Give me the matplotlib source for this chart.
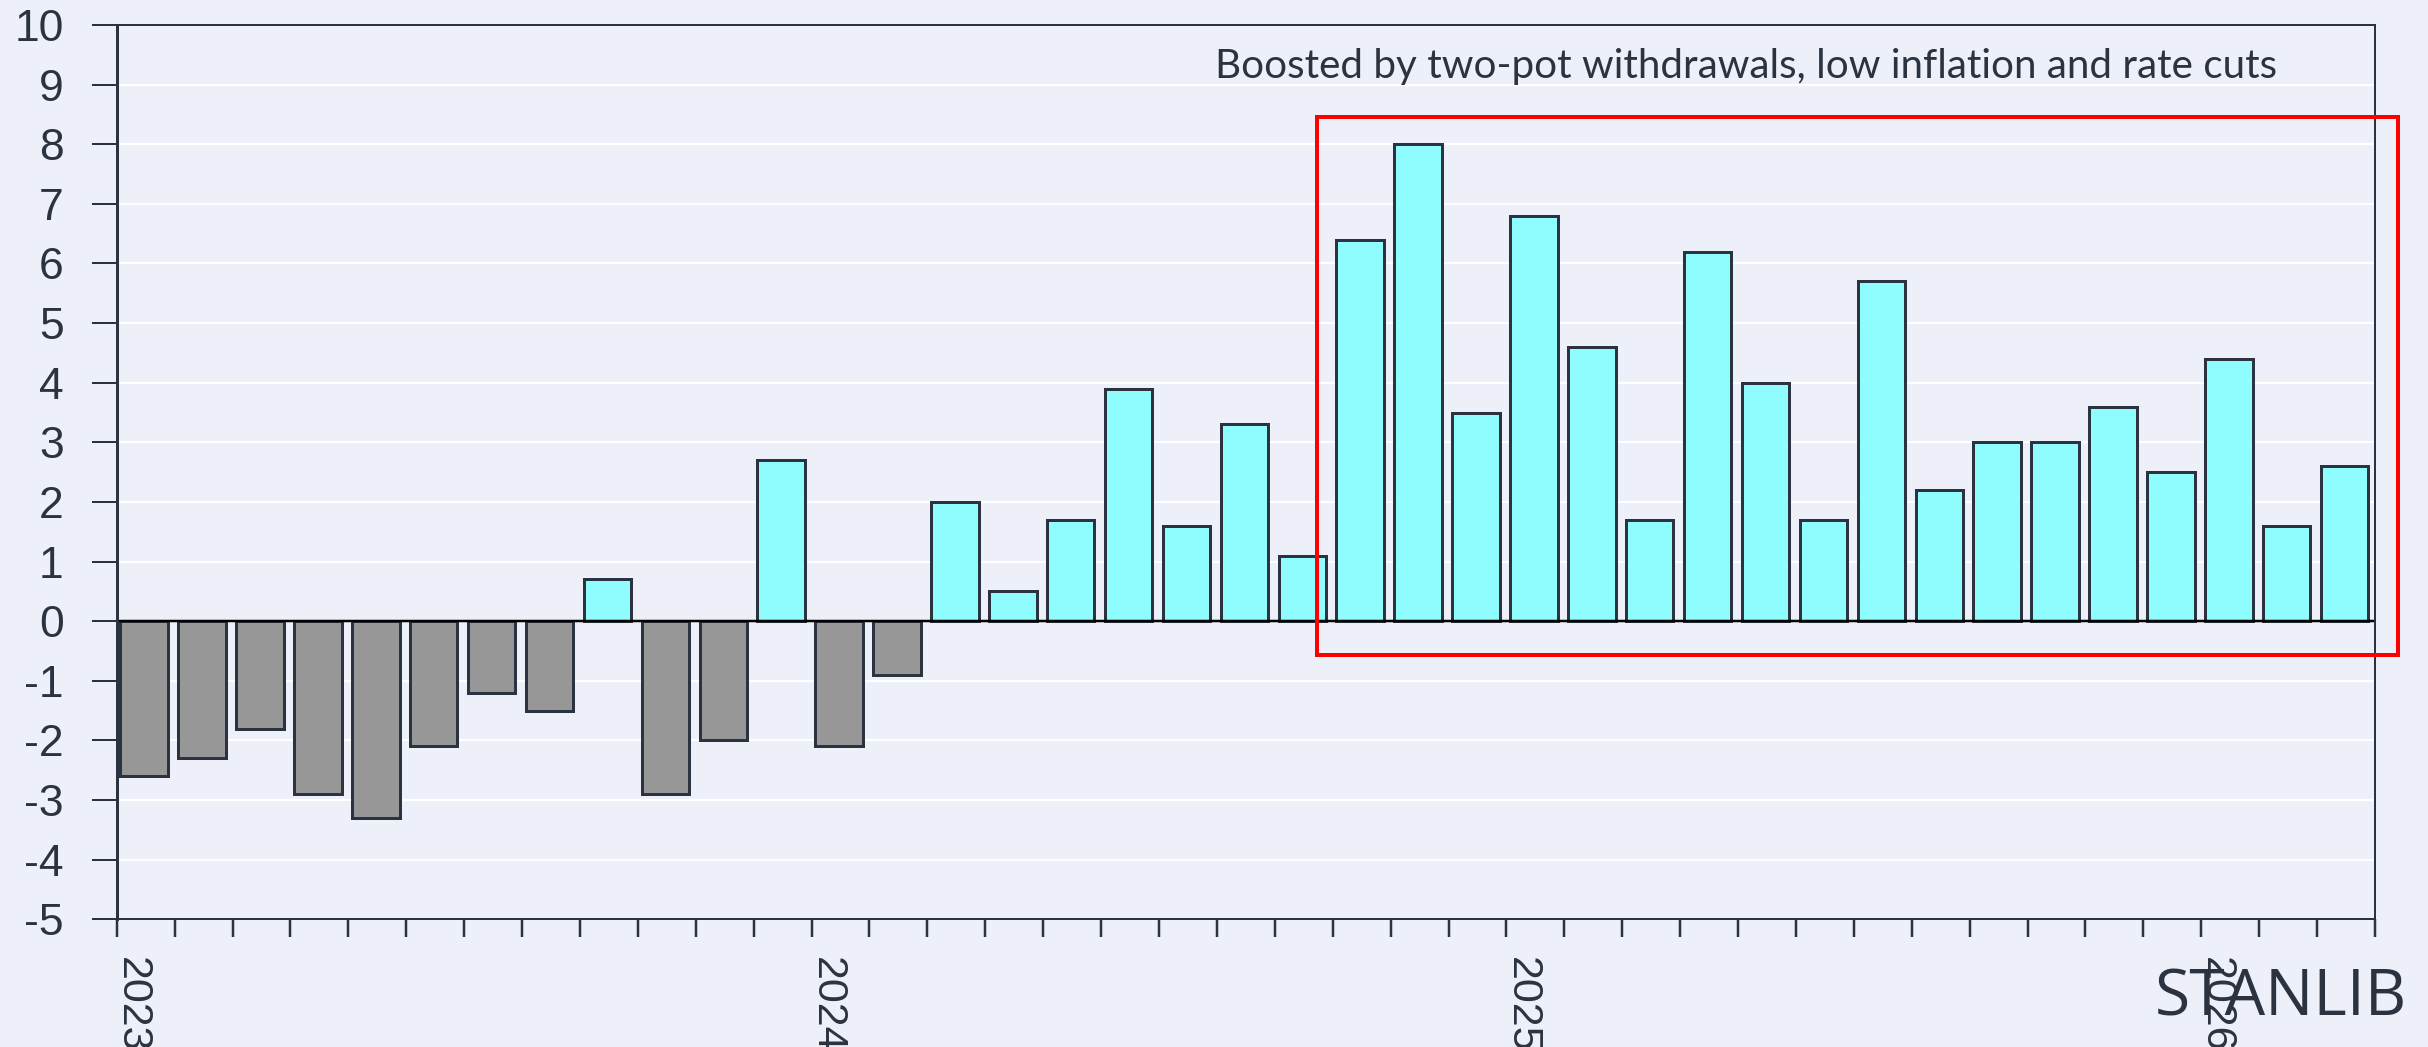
import matplotlib
matplotlib.use("Agg")
import matplotlib.pyplot as plt
from matplotlib import font_manager
from matplotlib.patches import Rectangle
import matplotlib.transforms as mtransforms

# ---------------- data ----------------
months = [f"{y}-{m:02d}" for y in (2023, 2024, 2025, 2026) for m in range(1, 13)][:39]
values = [-2.6, -2.3, -1.8, -2.9, -3.3, -2.1, -1.2, -1.5, 0.7, -2.9, -2.0, 2.7,
          -2.1, -0.9, 2.0, 0.5, 1.7, 3.9, 1.6, 3.3, 1.1, 6.4, 8.0, 3.5,
          6.8, 4.6, 1.7, 6.2, 4.0, 1.7, 5.7, 2.2, 3.0, 3.0, 3.6, 2.5,
          4.4, 1.6, 2.6]
year_labels = ["2023", "2024", "2025", "2026"]
yticks = list(range(-5, 11))
annotation = "Boosted by two-pot withdrawals, low inflation and rate cuts"
brand = "STANLIB"

# ---------------- styles ----------------
BG = "#edf0f9"
DARK = "#2b3340"
POS = "#8ffcfd"
NEG = "#979797"
PX = 72 / 100.0  # points per pixel


def has_font(name):
    try:
        font_manager.findfont(name, fallback_to_default=False)
        return True
    except Exception:
        return False


annot_font = "Lato" if has_font("Lato") else "DejaVu Sans"

fig = plt.figure(figsize=(24.28, 10.47), dpi=100)
fig.patch.set_facecolor(BG)
ax = fig.add_axes([0.04806, 0.12197, 0.93011, 0.85415])
ax.set_facecolor(BG)

n = len(values)
xpos = [i + 0.475 for i in range(n)]
colors = [POS if v >= 0 else NEG for v in values]
ax.bar(xpos, values, width=0.82, color=colors, edgecolor=DARK,
       linewidth=3 * PX, zorder=3)

ax.axhline(0, color="black", lw=2.5 * PX, zorder=4)

ax.set_xlim(0, 39)
ax.set_ylim(-5, 10)
ax.set_yticks(yticks)
ax.set_yticklabels([str(t) for t in yticks])
ax.yaxis.grid(True, color="white", lw=2.2 * PX, zorder=0)
ax.xaxis.grid(False)
ax.set_axisbelow(True)

xt = list(range(0, 40))
ax.set_xticks(xt)
lab = []
for i in xt:
    if i % 12 == 0 and i // 12 < len(year_labels):
        lab.append(year_labels[i // 12])
    else:
        lab.append("")
ax.set_xticklabels(lab)

ax.tick_params(axis="y", direction="out", length=18, width=2 * PX, color=DARK,
               pad=28 * PX, labelsize=32, labelcolor=DARK)
ax.tick_params(axis="x", direction="out", length=13, width=2.5 * PX, color=DARK,
               pad=20 * PX, labelcolor=DARK)
for t in ax.get_yticklabels():
    t.set_fontfamily("Liberation Sans")
offset = mtransforms.ScaledTranslation(4 / 100.0, 0, fig.dpi_scale_trans)
for t in ax.get_xticklabels():
    t.set_fontfamily("Liberation Sans")
    t.set_fontsize(31)
    t.set_rotation(-90)
    t.set_rotation_mode("anchor")
    t.set_ha("left")
    t.set_va("baseline")
    t.set_transform(t.get_transform() + offset)

for side, sp in ax.spines.items():
    sp.set_color(DARK)
    sp.set_linewidth((3 if side == "left" else 2) * PX)
    sp.set_zorder(5)

# highlight box
ax.add_patch(Rectangle((20.73, -0.57), 18.67, 9.02, fill=False, ec="#ff0000",
                       lw=4 * PX, clip_on=False, zorder=6))

# annotation text
at = fig.text(1215 / 2428, 1 - 78 / 1047, annotation, fontsize=27,
              family=annot_font, color=DARK, ha="left", va="baseline")
bt = fig.text(2155 / 2428, 1 - 1016 / 1047, brand, fontsize=38,
              family="Open Sans" if has_font("Open Sans") else "DejaVu Sans",
              color=DARK, ha="left", va="baseline")

renderer = fig.canvas.get_renderer()
for txt, target in ((at, 1064), (bt, 252)):
    w = txt.get_window_extent(renderer).width
    txt.set_fontsize(txt.get_fontsize() * target / w)

fig.savefig("out.png", dpi=100, facecolor=BG)
